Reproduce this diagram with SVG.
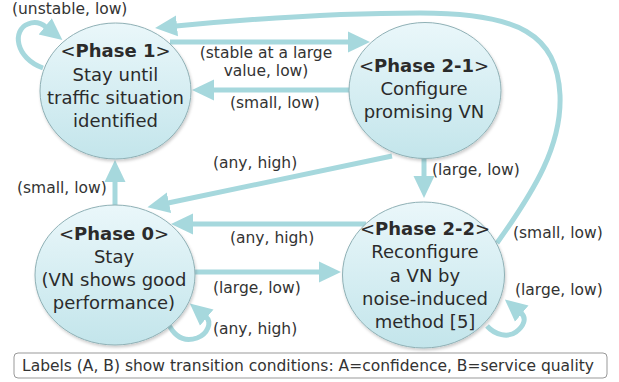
<svg xmlns="http://www.w3.org/2000/svg" width="619" height="382" viewBox="0 0 619 382">
<defs>
<linearGradient id="g" x1="0" y1="0" x2="0" y2="1">
<stop offset="0" stop-color="#eaf7fa"/>
<stop offset="1" stop-color="#c3e5eb"/>
</linearGradient>
<filter id="sh" x="-10%" y="-10%" width="120%" height="125%">
<feDropShadow dx="1" dy="2" stdDeviation="1.5" flood-color="#000" flood-opacity="0.2"/>
</filter>
<marker id="ah" markerUnits="userSpaceOnUse" markerWidth="24" markerHeight="24" viewBox="0 -12 24 24" refX="1" refY="0" orient="auto">
<path d="M0,-10.5 L22,0 L0,10.5 Z" fill="#a6d8dd"/>
</marker>
</defs>
<style>
.n{fill:url(#g);stroke:#8fb0b5;stroke-width:1;filter:url(#sh)}
.t{font-family:"DejaVu Sans",Verdana,sans-serif;font-size:18px;fill:#2b2b2b;text-anchor:middle}
.b{font-weight:bold}
.c{fill:none;stroke:#a6d8dd;stroke-width:5;marker-end:url(#ah)}
.l{font-family:"DejaVu Sans",Verdana,sans-serif;font-size:15.5px;fill:#333}
</style>
<rect width="619" height="382" fill="#fff"/>
<g id="connectors">
<path class="c" d="M43 68 C15 58 12 30 28 24 C35 21 41 23 46 27"/>
<path class="c" d="M170 42 L349 42"/>
<path class="c" d="M352 90 L213 90"/>
<path class="c" d="M497 243 C535 190 562 145 560 95 C557 35 520 13 420 13 C330 13 250 19 176 26"/>
<path class="c" d="M392 156 L168 203"/>
<path class="c" d="M115 206 L115 181"/>
<path class="c" d="M424 158 L424 177"/>
<path class="c" d="M366 224 L192 224"/>
<path class="c" d="M195 272 L320 272"/>
<path class="c" d="M168 323 C175 338 185 342 197 338 C208 334 212 322 206 317"/>
<path class="c" d="M487 326 C495 335 508 338 516 332 C524 326 527 318 521 313"/>
</g>
<g id="labels">
<text class="l" x="12" y="14">(unstable, low)</text>
<text class="l" x="266" y="58" text-anchor="middle">(stable at a large</text>
<text class="l" x="266" y="76" text-anchor="middle">value, low)</text>
<text class="l" x="230" y="108">(small, low)</text>
<text class="l" x="213" y="168">(any, high)</text>
<text class="l" x="17" y="193">(small, low)</text>
<text class="l" x="432" y="175">(large, low)</text>
<text class="l" x="230" y="243">(any, high)</text>
<text class="l" x="213" y="293">(large, low)</text>
<text class="l" x="213" y="334">(any, high)</text>
<text class="l" x="513" y="238">(small, low)</text>
<text class="l" x="515" y="295">(large, low)</text>
</g>
<g id="phase1">
<ellipse class="n" cx="115.5" cy="91" rx="75.5" ry="68"/>
<text class="t" x="115.5" y="57">&lt;<tspan class="b">Phase 1</tspan>&gt;</text>
<text class="t" x="115.5" y="81">Stay until</text>
<text class="t" x="115.5" y="104">traffic situation</text>
<text class="t" x="115.5" y="127">identified</text>
</g>
<g id="phase2-1">
<ellipse class="n" cx="425" cy="90.5" rx="76" ry="68"/>
<text class="t" x="424" y="72">&lt;<tspan class="b">Phase 2-1</tspan>&gt;</text>
<text class="t" x="424" y="95">Configure</text>
<text class="t" x="424" y="118">promising VN</text>
</g>
<g id="phase0">
<ellipse class="n" cx="115" cy="275" rx="80" ry="70"/>
<text class="t" x="114" y="240">&lt;<tspan class="b">Phase 0</tspan>&gt;</text>
<text class="t" x="114" y="263">Stay</text>
<text class="t" x="114" y="286">(VN shows good</text>
<text class="t" x="114" y="309">performance)</text>
</g>
<g id="phase2-2">
<ellipse class="n" cx="423.5" cy="275" rx="81" ry="73"/>
<text class="t" x="425" y="235">&lt;<tspan class="b">Phase 2-2</tspan>&gt;</text>
<text class="t" x="425" y="258">Reconfigure</text>
<text class="t" x="425" y="282">a VN by</text>
<text class="t" x="425" y="305">noise-induced</text>
<text class="t" x="425" y="328">method [5]</text>
</g>
<g id="legend">
<rect x="14" y="353" width="593" height="25" rx="4" fill="#fff" stroke="#999" stroke-width="1"/>
<text class="l" x="22" y="370.5">Labels (A, B) show transition conditions: A=confidence, B=service quality</text>
</g>
</svg>
